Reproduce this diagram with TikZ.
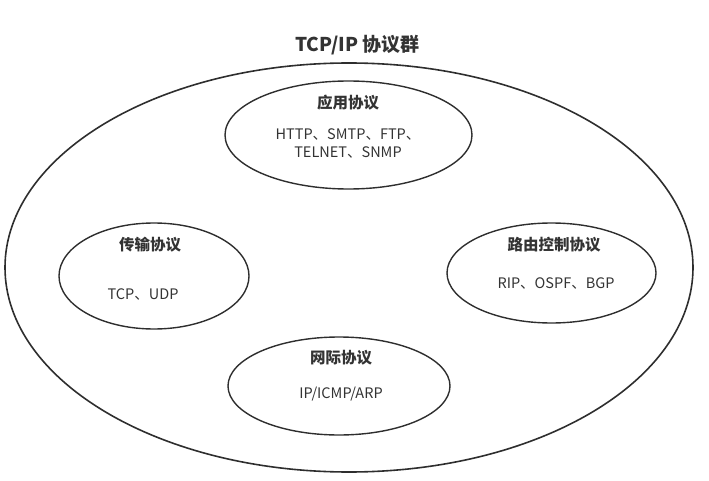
\documentclass[tikz,border=0pt]{standalone}
\usepackage{fontspec}
\setmainfont{Noto Sans CJK SC}
\usetikzlibrary{shapes.geometric}
\tikzset{
  tcpouter/.style={ellipse, draw=\tcpLine, line width=1.6pt, inner sep=0pt},
  tcpgroup/.style={ellipse, draw=\tcpLine, line width=1.4pt, inner sep=0pt},
  tcptitle/.style={font=\fontsize{19}{22}\selectfont\bfseries, text=\tcpInk},
  tcpname/.style={font=\fontsize{15.5}{18}\selectfont\bfseries, text=\tcpInk},
  tcpbody/.style={font=\fontsize{14.5}{18}\selectfont, text=\tcpInk, align=center},
}
\newcommand{\tcpLine}{black!82}
\newcommand{\tcpInk}{black!80}

\begin{document}
\begin{tikzpicture}[x=1pt, y=-1pt]
  \useasboundingbox (0,0) rectangle (709,481);
  \node[tcptitle] (T) at (357.5,45) {TCP/IP 协议群};
  \node[tcpouter, minimum width=688, minimum height=409] (all) at (349,267.5) {};
  % the four groups
  \node[tcpgroup, minimum width=247, minimum height=108] (app) at (348.5,135) {};
  \node[tcpgroup, minimum width=190, minimum height=106] (trans) at (154,276) {};
  \node[tcpgroup, minimum width=209, minimum height=100] (route) at (551.5,273) {};
  \node[tcpgroup, minimum width=222, minimum height=98] (net) at (339,386) {};
  \node[tcpname] (appN) at (348,103) {应用协议};
  \node[tcpbody] (appB) at (348,143) {HTTP、SMTP、FTP、\\TELNET、SNMP};
  \node[tcpname] (transN) at (150,245) {传输协议};
  \node[tcpbody] (transB) at (143,294) {TCP、UDP};
  \node[tcpname] (routeN) at (554,245) {路由控制协议};
  \node[tcpbody] (routeB) at (556,283) {RIP、OSPF、BGP};
  \node[tcpname] (netN) at (341,358) {网际协议};
  \node[tcpbody] (netB) at (341,394) {IP/ICMP/ARP};
\end{tikzpicture}
\end{document}
